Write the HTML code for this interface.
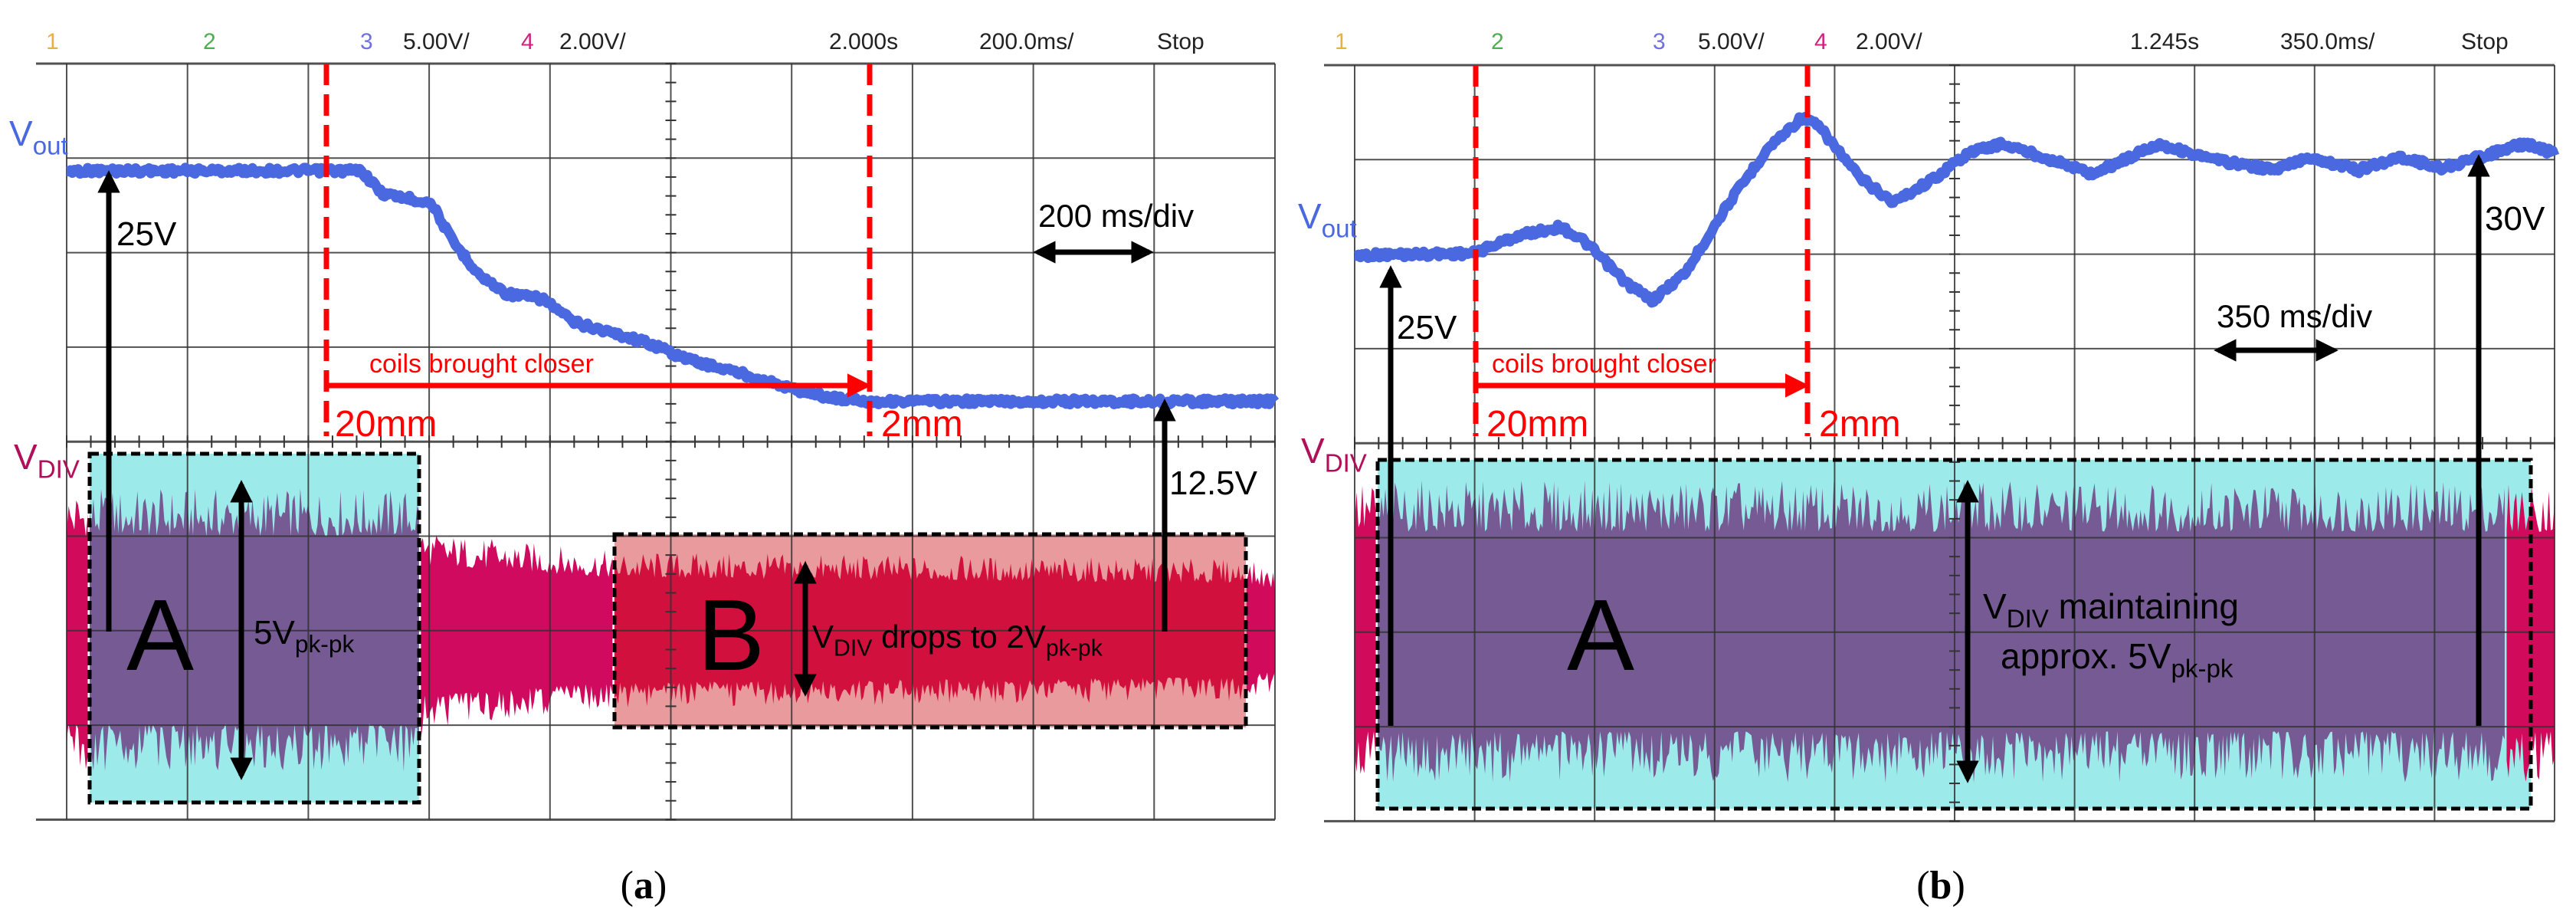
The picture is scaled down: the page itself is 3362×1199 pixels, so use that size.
<!DOCTYPE html>
<html><head><meta charset="utf-8"><style>
html,body{margin:0;padding:0;background:#fff;}
svg{display:block;}
text{font-family:"Liberation Sans",sans-serif;}
</style></head><body>
<svg id="fig" width="3362" height="1199" viewBox="0 0 3362 1199" xmlns="http://www.w3.org/2000/svg">
<defs>
<marker id="ah" viewBox="0 0 10 10" refX="8" refY="5" markerWidth="4.2" markerHeight="4.2" orient="auto-start-reverse"><path d="M0,0L10,5L0,10z" fill="#000"/></marker>
<marker id="ahr" viewBox="0 0 10 10" refX="8" refY="5" markerWidth="4.5" markerHeight="4.5" orient="auto"><path d="M0,0L10,5L0,10z" fill="#f00"/></marker>
</defs>
<g id="panelA"></g>
<g id="panelB"></g>
</svg>
<script>
// ---- data: panel a ----
const aVoutTime = [0, 2.44, 2.61, 3.02, 3.19, 3.43, 3.64, 3.95, 4.19, 4.81, 5.15, 5.63, 5.98, 6.32, 6.66, 10];
const aVoutVolts = [24.3, 24.3, 23.1, 22.6, 20.6, 18.7, 17.8, 17.5, 16.3, 15.2, 14.3, 13.5, 12.8, 12.3, 12.1, 12.1];
const aDivTime = [0, 2.92, 2.95, 4.53, 9.75, 10];
const aDivAmp = [3.0, 3.0, 2.1, 1.67, 1.5, 1.3];
// ---- data: panel b ----
const bVoutTime = [0, 0.99, 1.37, 1.72, 1.92, 2.27, 2.48, 2.76, 3.10, 3.45, 3.73, 3.87, 4.21, 4.49, 4.84, 5.11, 5.39, 5.74, 6.15, 6.43, 6.70, 7.12, 7.67, 7.95, 8.37, 8.72, 9.06, 9.75, 10];
const bVoutVolts = [24.9, 25.0, 25.95, 26.4, 25.6, 23.4, 22.5, 24.0, 27.5, 30.6, 32.2, 31.7, 29.0, 27.7, 29.0, 30.3, 30.8, 30.1, 29.2, 30.0, 30.8, 30.0, 29.4, 30.1, 29.4, 30.1, 29.5, 30.8, 30.3];
const bDivTime = [0, 10];
const bDivAmp = [3.2, 3.2];
// header labels
const aHeader = ["1","2","3","5.00V/","4","2.00V/","2.000s","200.0ms/","Stop"];
const bHeader = ["1","2","3","5.00V/","4","2.00V/","1.245s","350.0ms/","Stop"];

const NS="http://www.w3.org/2000/svg";
function mk(parent,tag,attrs){const e=document.createElementNS(NS,tag);for(const k in attrs)e.setAttribute(k,attrs[k]);parent.appendChild(e);return e;}
function interp(ts,vs,t){if(t<=ts[0])return vs[0];for(let i=1;i<ts.length;i++){if(t<=ts[i]){const f=(t-ts[i-1])/(ts[i]-ts[i-1]);return vs[i-1]+f*(vs[i]-vs[i-1]);}}return vs[vs.length-1];}
function hash(i){const s=Math.sin(i*12.9898+78.233)*43758.5453;return s-Math.floor(s);}

function panel(g,P){
  const X=t=>P.x0+t*P.dx, Y3=v=>P.g3-v/5*P.dy, Y4=v=>P.g4-v/2*P.dy;
  const hx=P.hx, hc=["#e8b040","#4caf50","#7070e0","#222","#d02080","#222","#222","#222","#222"];
  P.hdr.forEach((s,i)=>{const t=mk(g,'text',{x:hx[i],y:64,'font-size':30,fill:hc[i]});t.textContent=s;
    });
  P.boxes.forEach(b=>{const r=mk(g,'rect',{x:b.x,y:b.y,width:b.w,height:b.h,fill:b.fill});
    });
  const N=Math.round(P.dx*10/2.5);
  P.bandSegs.forEach(seg=>{
    let top=[],bot=[];
    for(let i=0;i<=N;i++){const t=i/N*10;if(t<seg.t0||t>seg.t1)continue;
      const a=interp(P.dT,P.dA,t);const h1=0.66+0.34*Math.pow(hash(i+P.seed),1.5),h2=0.66+0.34*Math.pow(hash(i*3+7+P.seed),1.5);
      top.push(X(t)+','+Y4(a*h1));bot.unshift(X(t)+','+Y4(-a*h2));}
    const p=mk(g,'polygon',{points:top.concat(bot).join(' '),fill:seg.fill});
    
  });
  for(let i=0;i<=10;i++){const l=mk(g,'line',{x1:X(i),x2:X(i),y1:P.top,y2:P.top+8*P.dy,stroke:'#333','stroke-width':2,'stroke-opacity':0.85});
    }
  for(let j=0;j<=8;j++){const l=mk(g,'line',{x1:(j==0||j==8)?P.x0-40:P.x0,x2:X(10),y1:P.top+j*P.dy,y2:P.top+j*P.dy,stroke:'#333','stroke-width':(j==0||j==4||j==8)?3:2,'stroke-opacity':0.85});
    }
  for(let k=0;k<=50;k++){const x=X(k/5);mk(g,'line',{x1:x,x2:x,y1:P.top+4*P.dy-8,y2:P.top+4*P.dy+8,stroke:'#333','stroke-width':2});}
  for(let k=0;k<=40;k++){const y=P.top+k*P.dy/5;mk(g,'line',{x1:X(5)-7,x2:X(5)+7,y1:y,y2:y,stroke:'#333','stroke-width':2});}
  P.boxes.forEach(b=>{const r=mk(g,'rect',{x:b.x,y:b.y,width:b.w,height:b.h,fill:'none',stroke:'#000','stroke-width':5,'stroke-dasharray':'12 6'});
    });
  let pts=[];for(let i=0;i<=N;i++){const t=i/N*10;pts.push(X(t)+','+(Y3(interp(P.vT,P.vV,t))+(hash(i+11)-0.5)*8));}
  const tr=mk(g,'polyline',{points:pts.join(' '),fill:'none',stroke:'#4a68e0','stroke-width':13,'stroke-linejoin':'round'});
  
  P.red.forEach(x=>{const l=mk(g,'line',{x1:x,x2:x,y1:P.top,y2:569,stroke:'#f00','stroke-width':7,'stroke-dasharray':'28 12'});
    });
  const ra=mk(g,'line',{x1:P.red[0],x2:P.red[1]-4,y1:503,y2:503,stroke:'#f00','stroke-width':7,'marker-end':'url(#ahr)'});
  
  P.texts.forEach(o=>{const t=mk(g,'text',{x:o.x,y:o.y,'font-size':o.fs,fill:o.c||'#000'});
    if(o.anchor)t.setAttribute('text-anchor',o.anchor);
    if(o.ff)t.setAttribute('style','font-family:'+o.ff);
    let sub=false;
    o.parts.forEach(p=>{const s=mk(t,'tspan',{});s.textContent=p[0];const isSub=!!p[1];
      if(isSub){s.setAttribute('font-size',o.fs*0.72);}
      if(isSub!==sub){s.setAttribute('dy',isSub?o.fs*0.25:-o.fs*0.25);}
      sub=isSub;if(p[2])s.setAttribute('font-weight','bold');});
    });
  P.arrows.forEach(a=>{const l=mk(g,'line',{x1:a[0],y1:a[1],x2:a[2],y2:a[3],stroke:'#000','stroke-width':7,'marker-end':'url(#ah)'});
    if(a[4])l.setAttribute('marker-start','url(#ah)');
    });
}

panel(document.getElementById('panelA'),{
  x0:87,dx:157.7,top:83,dy:123.3,g3:822,g4:822,seed:0,
  hdr:aHeader,hx:[60,265,470,526,680,730,1082,1278,1510],
  vT:aVoutTime,vV:aVoutVolts,dT:aDivTime,dA:aDivAmp,
  boxes:[{x:117,y:592,w:430,h:455,fill:'#9deaea',name:'region-a-box'},{x:802,y:697,w:824,h:252,fill:'#e89a9c',name:'region-b-box'}],
  bandSegs:[{t0:0,t1:0.19,fill:'#d20a5c'},{t0:0.19,t1:2.92,fill:'#765a93'},{t0:2.92,t1:4.53,fill:'#d00a5e'},{t0:4.53,t1:9.76,fill:'#d2103e'},{t0:9.76,t1:10,fill:'#d20a5c'}],
  red:[426,1135],
  texts:[
    {x:482,y:486,fs:34,c:'#f00',parts:[['coils brought closer']],name:'coils-label'},
    {x:437,y:569,fs:48,c:'#f00',parts:[['20mm']],name:'start-distance-label'},
    {x:1150,y:569,fs:48,c:'#f00',parts:[['2mm']],name:'end-distance-label'},
    {x:152,y:320,fs:44,parts:[['25V']],name:'vout-25v-label'},
    {x:1526,y:645,fs:44,parts:[['12.5V']],name:'vout-12-5v-label'},
    {x:1355,y:296,fs:42,parts:[['200 ms/div']],name:'timebase-label'},
    {x:12,y:190,fs:46,c:'#4a68e0',parts:[['V'],['out',1]],name:'vout-axis-label'},
    {x:18,y:612,fs:46,c:'#b0105a',parts:[['V'],['DIV',1]],name:'vdiv-axis-label'},
    {x:165,y:874,fs:132,parts:[['A']],name:'region-a-label'},
    {x:910,y:874,fs:132,parts:[['B']],name:'region-b-label'},
    {x:331,y:840,fs:44,parts:[['5V'],['pk-pk',1]],name:'pkpk-label'},
    {x:1060,y:845,fs:42,parts:[['V'],['DIV',1],[' drops to 2V'],['pk-pk',1]],name:'vdiv-drop-label'},
    {x:840,y:1172,fs:52,anchor:'middle',ff:'"Liberation Serif",serif',parts:[['('],['a',0,1],[')']],name:'panel-a-caption'}
  ],
  arrows:[[142,824,142,228,0,'vout-25v-arrow'],[315,632,315,1012,1,'pkpk-arrow'],[1051,738,1051,903,1,'vdiv-drop-arrow'],
    [1520,824,1520,526,0,'vout-12-5v-arrow'],[1354,329,1500,329,1,'timebase-arrow']]
});
panel(document.getElementById('panelB'),{
  x0:1768,dx:156.6,top:85,dy:123.3,g3:947,g4:824,seed:500,
  hdr:bHeader,hx:[1742,1946,2157,2216,2368,2422,2780,2976,3212],
  vT:bVoutTime,vV:bVoutVolts,dT:bDivTime,dA:bDivAmp,
  boxes:[{x:1798,y:600,w:1505,h:455,fill:'#9deaea',name:'region-a-box'}],
  bandSegs:[{t0:0,t1:0.19,fill:'#d20a5c'},{t0:0.19,t1:9.6,fill:'#765a93'},{t0:9.6,t1:10,fill:'#d20a5c'}],
  red:[1926,2359],
  texts:[
    {x:1947,y:486,fs:34,c:'#f00',parts:[['coils brought closer']],name:'coils-label'},
    {x:1940,y:569,fs:48,c:'#f00',parts:[['20mm']],name:'start-distance-label'},
    {x:2374,y:569,fs:48,c:'#f00',parts:[['2mm']],name:'end-distance-label'},
    {x:1823,y:442,fs:44,parts:[['25V']],name:'vout-25v-label'},
    {x:3243,y:300,fs:44,parts:[['30V']],name:'vout-30v-label'},
    {x:2893,y:427,fs:42,parts:[['350 ms/div']],name:'timebase-label'},
    {x:1694,y:298,fs:46,c:'#4a68e0',parts:[['V'],['out',1]],name:'vout-axis-label'},
    {x:1698,y:604,fs:46,c:'#b0105a',parts:[['V'],['DIV',1]],name:'vdiv-axis-label'},
    {x:2045,y:874,fs:132,parts:[['A']],name:'region-a-label'},
    {x:2588,y:807,fs:46,parts:[['V'],['DIV',1],[' maintaining']],name:'vdiv-maintain-label'},
    {x:2611,y:872,fs:46,parts:[['approx. 5V'],['pk-pk',1]],name:'vdiv-approx-label'},
    {x:2533,y:1172,fs:52,anchor:'middle',ff:'"Liberation Serif",serif',parts:[['('],['b',0,1],[')']],name:'panel-b-caption'}
  ],
  arrows:[[1815,947,1815,352,0,'vout-25v-arrow'],[2568,632,2568,1016,1,'vdiv-pkpk-arrow'],
    [3235,947,3235,207,0,'vout-30v-arrow'],[2895,457,3046,457,1,'timebase-arrow']]
});
</script>
</body></html>
